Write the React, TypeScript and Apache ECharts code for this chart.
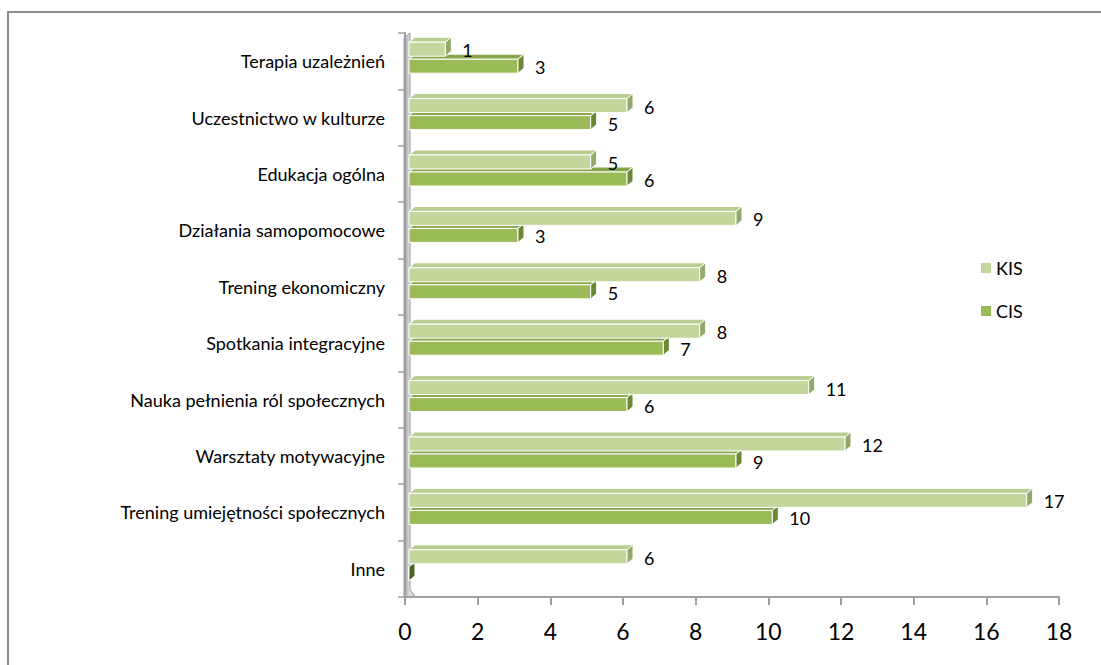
import { useEffect, useRef } from 'react';
import * as echarts from 'echarts';

// categories listed bottom-up (ECharts category y axis grows upward)
const categories = [
  'Inne',
  'Trening umiejętności społecznych',
  'Warsztaty motywacyjne',
  'Nauka pełnienia ról społecznych',
  'Spotkania integracyjne',
  'Trening ekonomiczny',
  'Działania samopomocowe',
  'Edukacja ogólna',
  'Uczestnictwo w kulturze',
  'Terapia uzależnień',
];
const kisValues = [6, 17, 12, 11, 8, 8, 9, 5, 6, 1];
const cisValues = [0, 10, 9, 6, 7, 5, 3, 6, 5, 3];
const seriesNames = ['KIS', 'CIS'];
const xMin = 0;
const xMax = 18;
const xStep = 2;

const FONT = 'Lato, "Open Sans", sans-serif';

const palette: Record<string, { front: string; top: string; side: string }> = {
  KIS: { front: '#c3d69b', top: '#b9cd8f', side: '#94a86a' },
  CIS: { front: '#9bbb59', top: '#86a449', side: '#6b8834' },
};

export default function App() {
  const ref = useRef<HTMLDivElement>(null);
  useEffect(() => {
    const chart = echarts.init(ref.current!, null, { renderer: 'svg' });

    const makeRender = (kind: string) => (params: any, api: any) => {
      const v = api.value(0) as number;
      const c = api.value(1) as number;
      const p0 = api.coord([0, c]);
      const p1 = api.coord([v, c]);
      const yc = p0[1];
      const x0 = p0[0] + 4;
      const x1 = p1[0] + 4;
      const top = kind === 'KIS' ? yc - 19 : yc - 2;
      const h = 14;
      const bot = top + h;
      const dx = 6;
      const dy = 5;
      const col = palette[kind];
      const stroke = { stroke: '#ffffff', lineWidth: 1 };
      const children: any[] = [
        {
          type: 'polygon',
          shape: { points: [[x0, top], [x0 + dx, top - dy], [x1 + dx, top - dy], [x1, top]] },
          style: { fill: col.top, ...stroke },
        },
        {
          type: 'rect',
          shape: { x: x0, y: top, width: Math.max(x1 - x0, 0), height: h },
          style: { fill: col.front, ...stroke },
        },
        {
          type: 'polygon',
          shape: { points: [[x1, top], [x1 + dx, top - dy], [x1 + dx, bot - dy], [x1, bot]] },
          style: { fill: v === 0 ? '#4f6228' : col.side, ...stroke },
        },
      ];
      if (v !== 0) {
        children.push({
          type: 'text',
          style: {
            text: String(v),
            x: x1 + 17,
            y: kind === 'KIS' ? yc - 11 : yc + 6,
            fill: '#000000',
            fontSize: 18,
            fontFamily: FONT,
            align: 'left',
            verticalAlign: 'middle',
          },
        });
      }
      return { type: 'group', children };
    };

    const option: any = {
      animation: false,
      backgroundColor: '#ffffff',
      grid: { left: 405, right: 42, top: 33, bottom: 68, containLabel: false },
      legend: {
        data: seriesNames,
        orient: 'vertical',
        left: 976,
        top: 254,
        itemGap: 25,
        itemWidth: 10,
        itemHeight: 10,
        icon: 'rect',
        textStyle: { fontSize: 18, fontFamily: FONT, color: '#000' },
      },
      xAxis: {
        type: 'value',
        min: xMin,
        max: xMax,
        interval: xStep,
        axisLine: { show: true, lineStyle: { color: '#a0a0a0', width: 2 } },
        axisTick: { show: true, length: 8, lineStyle: { color: '#a0a0a0', width: 2 } },
        splitLine: { show: false },
        axisLabel: { fontSize: 23, fontFamily: FONT, color: '#000', margin: 22 },
      },
      yAxis: {
        type: 'category',
        data: categories,
        axisLine: { show: true, lineStyle: { color: '#a0a0a0', width: 2 } },
        axisTick: { show: true, length: 7, lineStyle: { color: '#a0a0a0', width: 1.5 } },
        axisLabel: { fontSize: 18, fontFamily: FONT, color: '#000', margin: 20 },
      },
      graphic: [
        {
          type: 'rect',
          shape: { x: 8, y: 12, width: 1100, height: 660 },
          style: { fill: 'none', stroke: '#8c8c8c', lineWidth: 2 },
          silent: true,
        },
        {
          type: 'polygon',
          shape: { points: [[404, 597], [404, 38], [410, 33], [410, 590], [416, 597]] },
          style: {
            fill: new echarts.graphic.LinearGradient(0, 0, 1, 0, [
              { offset: 0, color: '#9a9a9a' },
              { offset: 0.5, color: '#e4e4e4' },
              { offset: 1, color: '#b0b0b0' },
            ]),
            stroke: '#9a9a9a',
            lineWidth: 1,
          },
          silent: true,
        },
      ],
      series: [
        {
          name: 'CIS',
          type: 'custom',
          itemStyle: { color: palette.CIS.front },
          renderItem: makeRender('CIS'),
          encode: { x: 0, y: 1 },
          data: cisValues.map((v, i) => [v, i]),
          clip: false,
          z: 3,
        },
        {
          name: 'KIS',
          type: 'custom',
          itemStyle: { color: palette.KIS.front },
          renderItem: makeRender('KIS'),
          encode: { x: 0, y: 1 },
          data: kisValues.map((v, i) => [v, i]),
          clip: false,
          z: 4,
        },
      ],
    };
    chart.setOption(option);
    return () => chart.dispose();
  }, []);
  return (
    <div
      ref={ref}
      style={{ position: 'fixed', left: 0, top: 0, width: 1101, height: 665 }}
    />
  );
}
